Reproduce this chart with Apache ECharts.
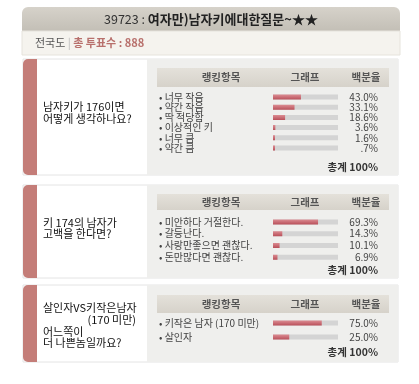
<!DOCTYPE html>
<html>
<head>
<meta charset="utf-8">
<script src="https://cdn.jsdelivr.net/npm/echarts@6/dist/echarts.min.js"></script>
<style>
  html, body { margin: 0; padding: 0; background: #fff; }
  #chart { width: 419px; height: 384px; }
</style>
</head>
<body>
<div id="chart"></div>
<script>
// 설문 데이터
const pollNo = '39723';
const pollTitle = '여자만)남자키에대한질문~★★';
const totalVotes = 888;
const headers = ['랭킹항목', '그래프', '백분율'];

const q1Text = ['남자키가 176이면', '어떻게 생각하나요?'];
const q1Items = ['너무 작음', '약간 작음', '딱 적당함', '이상적인 키', '너무 큼', '약간 큼'];
const q1Values = [43.0, 33.1, 18.6, 3.6, 1.6, 0.7];

const q2Text = ['키 174의 남자가', '고백을 한다면?'];
const q2Items = ['미안하다 거절한다.', '갈등난다.', '사랑만좋으면 괜찮다.', '돈만많다면 괜찮다.'];
const q2Values = [69.3, 14.3, 10.1, 6.9];

const q3Text = ['살인자VS키작은남자', '(170 미만)', '어느쪽이', '더 나쁜놈일까요?'];
const q3Items = ['키작은 남자 (170 미만)', '살인자'];
const q3Values = [75.0, 25.0];

const FONT = '"Noto Sans CJK KR", "Noto Sans", sans-serif';
const BAR_L = 273, BAR_W = 65;

// 패널 배치
const panels = [
  { top: 59, h: 116, head: [68, 19], grid: [92, 61], total: 167, qx: [43, 43], qy: [107, 119], text: q1Text, items: q1Items, values: q1Values },
  { top: 185, h: 93, head: [194, 16], grid: [216, 47], total: 270, qx: [43, 43], qy: [223, 234], text: q2Text, items: q2Items, values: q2Values },
  { top: 285, h: 77, head: [295, 18], grid: [316, 28], total: 352, qx: [43, 136, 43, 43], qy: [308, 320, 332, 343], text: q3Text, items: q3Items, values: q3Values }
];

function pct(v) {
  let s = v.toFixed(1);
  if (v < 1) s = s.slice(1);
  return s + '%';
}

let myChart = echarts.init(document.getElementById('chart'));

let graphics = [
  // 상단 제목
  { type: 'rect', shape: { x: 22, y: 7, width: 378, height: 24, r: [6, 6, 0, 0] },
    style: { fill: new echarts.graphic.LinearGradient(0, 0, 0, 1, [{ offset: 0, color: '#d6d2ca' }, { offset: 1, color: '#c3bfb6' }]) } },
  { type: 'text', x: 211, y: 19,
    style: { text: '{n|' + pollNo + ' : }{b|' + pollTitle + '}', align: 'center', verticalAlign: 'middle',
      rich: { n: { fontFamily: FONT, fontSize: 12.5, fill: '#333' }, b: { fontFamily: FONT, fontSize: 13, fontWeight: 'bold', fill: '#222' } } } },
  { type: 'rect', shape: { x: 22, y: 31, width: 378, height: 24 }, style: { fill: '#f5f3ee', stroke: '#e6e3dc' } },
  { type: 'text', x: 35, y: 43,
    style: { text: '{a|전국도}{s| | }{r|총 투표수 : ' + totalVotes + '}', verticalAlign: 'middle',
      rich: { a: { fontFamily: FONT, fontSize: 11, fill: '#555' }, s: { fontFamily: FONT, fontSize: 11, fill: '#bbb' },
        r: { fontFamily: FONT, fontSize: 11, fontWeight: 'bold', fill: '#b8706c' } } } }
];

let grids = [], xAxes = [], yAxes = [], series = [];

panels.forEach(function (p, i) {
  // 패널 배경
  let hy = p.head[0] + p.head[1] / 2;
  graphics.push(
    { type: 'rect', shape: { x: 23, y: p.top, width: 375, height: p.h }, style: { fill: '#fff', stroke: '#e4e4e4' } },
    { type: 'rect', shape: { x: 23, y: p.top, width: 14, height: p.h, r: [5, 0, 0, 5] }, style: { fill: '#c47d78' } },
    { type: 'rect', shape: { x: 147, y: p.top, width: 251, height: p.h }, style: { fill: '#efefed' } },
    { type: 'rect', shape: { x: 157, y: p.head[0], width: 232, height: p.head[1] },
      style: { fill: new echarts.graphic.LinearGradient(0, 0, 0, 1, [{ offset: 0, color: '#e4e1da' }, { offset: 1, color: '#d6d2ca' }]) } },
    { type: 'text', x: 221, y: hy, style: { text: headers[0], align: 'center', verticalAlign: 'middle', fontFamily: FONT, fontSize: 10.5, fontWeight: 'bold', fill: '#555' } },
    { type: 'text', x: 305, y: hy, style: { text: headers[1], align: 'center', verticalAlign: 'middle', fontFamily: FONT, fontSize: 10.5, fontWeight: 'bold', fill: '#555' } },
    { type: 'text', x: 366, y: hy, style: { text: headers[2], align: 'center', verticalAlign: 'middle', fontFamily: FONT, fontSize: 10.5, fontWeight: 'bold', fill: '#555' } },
    { type: 'text', x: 378, y: p.total, style: { text: '총계 100%', align: 'right', verticalAlign: 'middle', fontFamily: FONT, fontSize: 10.5, fontWeight: 'bold', fill: '#333' } }
  );
  p.text.forEach(function (line, k) {
    graphics.push({ type: 'text', x: p.qx[k], y: p.qy[k],
      style: { text: line, align: p.qx[k] > 100 ? 'right' : 'left', verticalAlign: 'middle', fontFamily: FONT, fontSize: 11, fill: '#111' } });
  });

  grids.push({ left: BAR_L, width: BAR_W, top: p.grid[0], height: p.grid[1] });
  xAxes.push({ type: 'value', gridIndex: i, min: 0, max: 100, show: false });
  yAxes.push({
    type: 'category', gridIndex: i, inverse: true, data: p.items, position: 'left',
    axisLine: { show: false }, axisTick: { show: false }, splitLine: { show: false },
    axisLabel: { show: false }
  });
  yAxes.push({
    type: 'category', gridIndex: i, inverse: true, data: p.items, position: 'right',
    axisLine: { show: false }, axisTick: { show: false }, splitLine: { show: false },
    axisLabel: { interval: 0, align: 'right', margin: 378 - BAR_L - BAR_W, fontFamily: FONT, fontSize: 10, color: '#444',
      formatter: function (name, idx) { return pct(p.values[idx]); } }
  });
  series.push({
    type: 'bar', xAxisIndex: i, yAxisIndex: 2 * i, data: p.values,
    barWidth: 5, barMinHeight: 2,
    showBackground: true, backgroundStyle: { color: '#d4d4d4' },
    itemStyle: { color: new echarts.graphic.LinearGradient(0, 0, 0, 1, [{ offset: 0, color: '#dc8d93' }, { offset: 1, color: '#b9505a' }]) },
    silent: true
  });
});

myChart.setOption({
  backgroundColor: '#fff',
  animation: false,
  graphic: graphics,
  grid: grids,
  xAxis: xAxes,
  yAxis: yAxes,
  series: series
});

// 항목 이름: 축 눈금 위치에 맞춰 배치
let itemLabels = [];
panels.forEach(function (p, i) {
  p.items.forEach(function (name) {
    let y = myChart.convertToPixel({ yAxisIndex: 2 * i }, name);
    itemLabels.push({ type: 'text', x: 159, y: y,
      style: { text: '• ' + name, verticalAlign: 'middle', fontFamily: FONT, fontSize: 10, fill: '#444' } });
  });
});
myChart.setOption({ graphic: graphics.concat(itemLabels) });
</script>
</body>
</html>
